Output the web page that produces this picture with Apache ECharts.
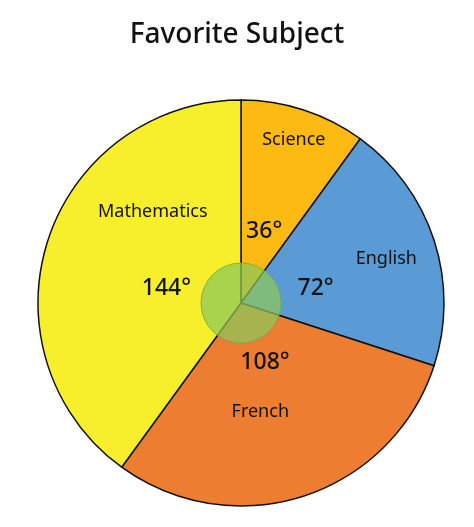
<!DOCTYPE html>
<html><head><meta charset="utf-8">
<script src="https://cdn.jsdelivr.net/npm/echarts@6/dist/echarts.min.js"></script>
<style>html,body{margin:0;padding:0;background:#fff}#c{width:474px;height:527px}</style>
</head><body><div id="c"></div>
<script>
const categories = ['Science','English','French','Mathematics'];
const degrees = [36,72,108,144];
const colors = ['#FDBA12','#5B9BD5','#ED7D31','#F7EF2C'];
// label placements in polar form (angle clockwise from top, radius px)
const nameAngle = [18,73,170,316];
const nameRadius = [171,152,111,127];
const degAngle = [18,79,158,281];
const degRadius = [75,76,64,76];
const CX = 241, CY = 303, R = 203;
const font = 'Noto Sans';
const polar = (a,r)=>({x:CX+r*Math.sin(a*Math.PI/180), y:CY-r*Math.cos(a*Math.PI/180)});
const chart = echarts.init(document.getElementById('c'));
const baseData = () => categories.map((n,i)=>({name:n,value:degrees[i],itemStyle:{color:colors[i]}}));
const series = [{
  type:'pie', center:[CX,CY], radius:[0,R], startAngle:90, silent:true,
  data: baseData(),
  itemStyle:{borderColor:'#111',borderWidth:1.5},
  label:{show:true,position:'inside',formatter:'{b}',fontSize:18,color:'#111',fontFamily:font},
  labelLine:{show:false},
  labelLayout:p=>{const q=polar(nameAngle[p.dataIndex],nameRadius[p.dataIndex]);return {x:q.x,y:q.y,align:'center',verticalAlign:'middle'};}
},{
  type:'pie', center:[CX,CY], radius:[0,R], startAngle:90, silent:true, z:5,
  data: categories.map((n,i)=>({name:n,value:degrees[i],itemStyle:{color:'transparent'}})),
  label:{show:true,position:'inside',formatter:p=>p.value+'°',fontSize:23,fontWeight:500,color:'#111',fontFamily:font},
  labelLine:{show:false},
  labelLayout:p=>{const q=polar(degAngle[p.dataIndex],degRadius[p.dataIndex]);return {x:q.x,y:q.y,align:'center',verticalAlign:'middle'};}
},{
  type:'pie', center:[CX,CY], radius:[0,40], silent:true, z:10,
  data:[{value:1,itemStyle:{color:'rgba(140,200,90,0.72)',borderColor:'rgba(120,170,80,0.9)',borderWidth:1}}],
  label:{show:false}, labelLine:{show:false}
}];
chart.setOption({
  animation:false,
  title:{text:'Favorite Subject',left:'center',top:16,textStyle:{fontSize:28,fontWeight:500,color:'#111',fontFamily:font}},
  series
});
</script></body></html>
